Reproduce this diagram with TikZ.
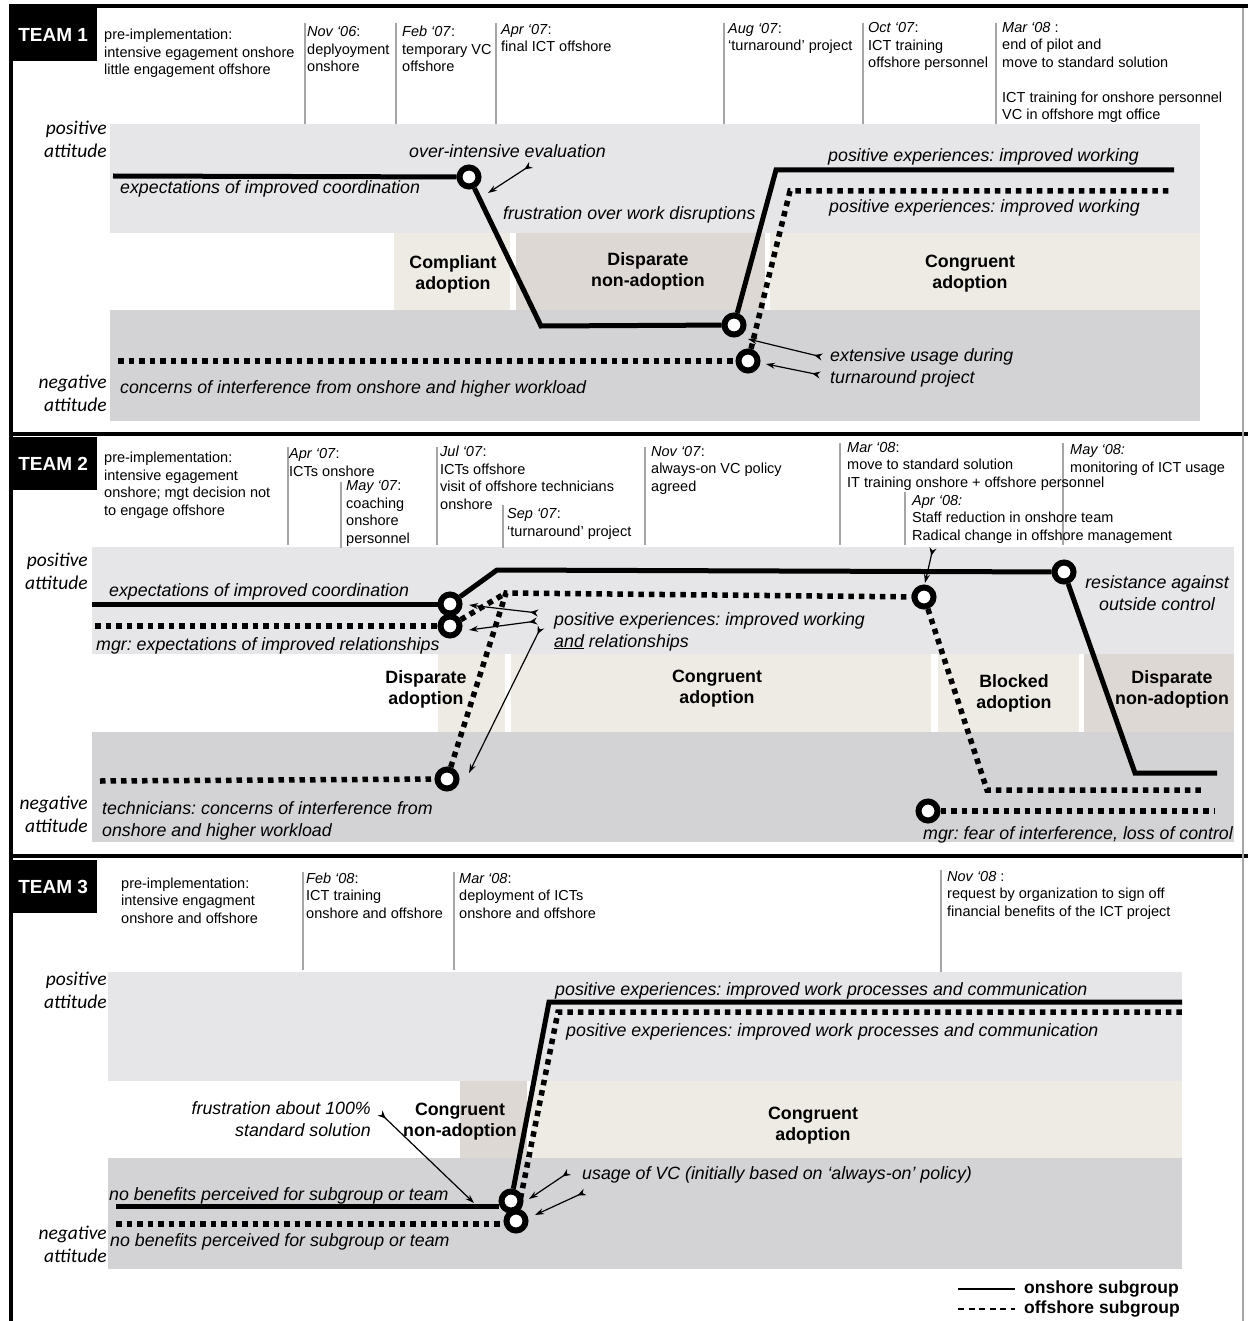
\documentclass[tikz,border=0pt]{standalone}
\usepackage{fontspec}
\setmainfont{Liberation Sans}
\newfontfamily\attfont{Carlito}
\usetikzlibrary{arrows.meta}
\frenchspacing

\definecolor{posband}{RGB}{230,230,232}
\definecolor{negband}{RGB}{211,211,213}
\definecolor{congbox}{RGB}{238,235,229}
\definecolor{disbox}{RGB}{222,216,212}
\definecolor{sepline}{RGB}{165,165,165}

\begin{document}
\begin{tikzpicture}[x = 1pt, y = -1pt,
    hdr/.style = {font = \fontsize{14.5}{17.5}\selectfont, align = left, anchor = base west, inner sep = 0},
    note/.style = {font = \fontsize{17.8}{22}\selectfont\itshape, align = left, anchor = base west, inner sep = 0},
    phase/.style = {font = \fontsize{17.8}{21}\selectfont\bfseries, align = center, inner sep = 0},
    att/.style = {font = \attfont\fontsize{19.5}{23}\selectfont\itshape, align = right, anchor = base east, inner sep = 0},
    team/.style = {fill = black, text = white, font = \fontsize{19}{19}\selectfont\bfseries, minimum width = 88, minimum height = 53, anchor = north west, inner sep = 0},
    onshore/.style = {line width = 5},
    offshore/.style = {line width = 5.5, dash pattern = on 5.5pt off 5pt},
    event/.style = {circle, draw, fill = white, line width = 6, minimum size = 19, inner sep = 0},
    sep/.style = {sepline, line width = 1.2},
    pointer/.style = {line width = 1.2, {Stealth[reversed, length = 8, width = 7]}-{Stealth[length = 9, width = 6]}}
]
    \useasboundingbox (0,0) rectangle (1248,1321);
    \fill [white] (0,0) rectangle (1248,1321);

    \fill [posband] (110,124) rectangle (1200,233);
    \fill [negband] (110,310) rectangle (1200,421);
    \fill [congbox] (394,233) rectangle (510,310);
    \fill [disbox]  (516,233) rectangle (765,310);
    \fill [congbox] (770,233) rectangle (1200,310);

    \fill [posband] (92,547) rectangle (1234,654);
    \fill [negband] (92,732) rectangle (1234,842);
    \fill [congbox] (438,654) rectangle (505,732);
    \fill [congbox] (511,654) rectangle (931,732);
    \fill [congbox] (938,654) rectangle (1079,732);
    \fill [disbox]  (1084,654) rectangle (1234,732);

    \fill [posband] (108,972) rectangle (1182,1081);
    \fill [negband] (108,1158) rectangle (1182,1269);
    \fill [disbox]  (460,1081) rectangle (527,1158);
    \fill [congbox] (531,1081) rectangle (1182,1158);

    \draw [black, line width = 4] (9,6.5) -- (1248,6.5);
    \draw [black, line width = 4] (9,434) -- (1248,434);
    \draw [black, line width = 4] (9,856) -- (1248,856);
    \draw [black, line width = 4] (11,6) -- (11,1321);
    \draw [sepline, line width = 1.5] (1243,8) -- (1243,1321);

    \draw [sep] (305,23) -- (305,124);
    \draw [sep] (396,23) -- (396,124);
    \draw [sep] (496,23) -- (496,124);
    \draw [sep] (724,23) -- (724,124);
    \draw [sep] (863,23) -- (863,124);
    \draw [sep] (996,23) -- (996,124);

    \draw [sep] (288,447) -- (288,545);
    \draw [sep] (341,482) -- (341,548);
    \draw [sep] (437,447) -- (437,545);
    \draw [sep] (503,505) -- (503,548);
    \draw [sep] (645,447) -- (645,545);
    \draw [sep] (840,443) -- (840,545);
    \draw [sep] (905,492) -- (905,545);
    \draw [sep] (1063,443) -- (1063,545);

    \draw [sep] (303,872) -- (303,970);
    \draw [sep] (454,872) -- (454,970);
    \draw [sep] (941,870) -- (941,972);

    \node [team] (team1) at (9,8) {TEAM 1};
    \node [team] (team2) at (9,437) {TEAM 2};
    \node [team] (team3) at (9,860) {TEAM 3};

    \node [hdr] (t1pre) at (104,75) {pre-implementation:\\intensive egagement onshore\\little engagement offshore};
    \node [hdr] (t1nov) at (307,72) {\textit{Nov ‘06}:\\deplyoyment\\onshore};
    \node [hdr] (t1feb) at (402,72) {\textit{Feb ‘07}:\\temporary VC\\offshore};
    \node [hdr] (t1apr) at (501,52) {\textit{Apr ‘07}:\\final ICT offshore};
    \node [hdr] (t1aug) at (728,51) {\textit{Aug ‘07}:\\‘turnaround’ project};
    \node [hdr] (t1oct) at (868,68) {\textit{Oct ‘07}:\\ICT training\\offshore personnel};
    \node [hdr] (t1mar) at (1002,120) {\textit{Mar ‘08} :\\end of pilot and\\move to standard solution\\[17.5pt]ICT training for onshore personnel\\VC in offshore mgt office};

    \node [hdr] (t2pre) at (104,515) {pre-implementation:\\intensive egagement\\onshore; mgt decision not\\to engage offshore};
    \node [hdr] (t2apr) at (289,476) {\textit{Apr ‘07}:\\ICTs onshore};
    \node [hdr] (t2may) at (346,543) {\textit{May ‘07}:\\coaching\\onshore\\personnel};
    \node [hdr] (t2jul) at (440,509) {\textit{Jul ‘07}:\\ICTs offshore\\visit of offshore technicians\\onshore};
    \node [hdr] (t2sep) at (507,536) {\textit{Sep ‘07}:\\‘turnaround’ project};
    \node [hdr] (t2nov) at (651,491) {\textit{Nov ‘07}:\\always-on VC policy\\agreed};
    \node [hdr] (t2mar) at (847,487) {\textit{Mar ‘08}:\\move to standard solution\\IT training onshore + offshore personnel};
    \node [hdr] (t2apr8) at (912,540) {\textit{Apr ‘08:}\\Staff reduction in onshore team\\Radical change in offshore management};
    \node [hdr] (t2may8) at (1070,472) {\textit{May ‘08:}\\monitoring of ICT usage};

    \node [hdr] (t3pre) at (121,923) {pre-implementation:\\intensive engagment\\onshore and offshore};
    \node [hdr] (t3feb) at (306,918) {\textit{Feb ‘08}:\\ICT training\\onshore and offshore};
    \node [hdr] (t3mar) at (459,918) {\textit{Mar ‘08}:\\deployment of ICTs\\onshore and offshore};
    \node [hdr] (t3nov) at (947,916) {\textit{Nov ‘08} :\\request by organization to sign off\\financial benefits of the ICT project};

    \node [att] (pos1) at (107,158) {positive\\attitude};
    \node [att] (neg1) at (107,411) {negative\\attitude};
    \node [att] (pos2) at (88,589) {positive\\attitude};
    \node [att] (neg2) at (88,832) {negative\\attitude};
    \node [att] (pos3) at (107,1008) {positive\\attitude};
    \node [att] (neg3) at (107,1262) {negative\\attitude};

    \node [phase] (ph1a) at (453,274) {Compliant\\adoption};
    \node [phase] (ph1b) at (648,271) {Disparate\\non-adoption};
    \node [phase] (ph1c) at (970,274) {Congruent\\adoption};
    \node [phase] (ph2a) at (426,689) {Disparate\\adoption};
    \node [phase] (ph2b) at (717,689) {Congruent\\adoption};
    \node [phase] (ph2c) at (1014,693) {Blocked\\adoption};
    \node [phase] (ph2d) at (1172,689) {Disparate\\non-adoption};
    \node [phase] (ph3a) at (460,1122) {Congruent\\non-adoption};
    \node [phase] (ph3b) at (813,1126) {Congruent\\adoption};

    \node [note] (n1eval) at (409,158) {over-intensive evaluation};
    \node [note] (n1exp) at (120,194) {expectations of improved coordination};
    \node [note] (n1frus) at (503,220) {frustration over work disruptions};
    \node [note] (n1posa) at (828,162) {positive experiences: improved working};
    \node [note] (n1posb) at (829,213) {positive experiences: improved working};
    \node [note] (n1use) at (830,383) {extensive usage during\\turnaround project};
    \node [note] (n1con) at (120,393) {concerns of interference from onshore and higher workload};

    \node [note] (n2exp) at (109,596) {expectations of improved coordination};
    \node [note] (n2mgr) at (96,650) {mgr: expectations of improved relationships};
    \node [note] (n2pos) at (554,647) {positive experiences: improved working\\\underline{and} relationships};
    \node [note, align = center, anchor = base] (n2res) at (1157,610) {resistance against\\outside control};
    \node [note] (n2tec) at (102,836) {technicians: concerns of interference from\\onshore and higher workload};
    \node [note] (n2fear) at (923,839) {mgr: fear of interference, loss of control};

    \node [note] (n3posa) at (555,995) {positive experiences: improved work processes and communication};
    \node [note] (n3posb) at (566,1036) {positive experiences: improved work processes and communication};
    \node [note, align = right, anchor = base east] (n3frus) at (371,1136) {frustration about 100\%\\standard solution};
    \node [note] (n3use) at (582,1179) {usage of VC (initially based on ‘always-on’ policy)};
    \node [note] (n3nba) at (109,1200) {no benefits perceived for subgroup or team};
    \node [note] (n3nbb) at (110,1246) {no benefits perceived for subgroup or team};

    \node [event] (e1a) at (469,177) {};
    \node [event] (e1b) at (734,325) {};
    \node [event] (e1c) at (748,361) {};
    \node [event] (e2a) at (450,604) {};
    \node [event] (e2b) at (450,626) {};
    \node [event] (e2c) at (447,779) {};
    \node [event] (e2d) at (1064,572) {};
    \node [event] (e2e) at (924,597) {};
    \node [event] (e2f) at (928,811) {};
    \node [event] (e3a) at (511,1201) {};
    \node [event] (e3b) at (516,1221) {};

    \coordinate (s1start) at (113,176);
    \coordinate (s1low) at (541,326);
    \coordinate (s1up) at (776,170);
    \coordinate (s1end) at (1174,170);
    \coordinate (o1start) at (118,361);
    \coordinate (o1up) at (790,191);
    \coordinate (o1end) at (1172,191);

    \draw [onshore] (s1start) -- (e1a);
    \draw [onshore] (e1a) -- (s1low) -- (e1b);
    \draw [onshore] (e1b) -- (s1up) -- (s1end);
    \draw [offshore] (o1start) -- (e1c);
    \draw [offshore] (e1c) -- (o1up) -- (o1end);

    \coordinate (s2start) at (92,604);
    \coordinate (s2up) at (497,570);
    \coordinate (s2low) at (1135,773);
    \coordinate (s2end) at (1217,773);
    \coordinate (o2start) at (95,626);
    \coordinate (o2tech) at (100,781);
    \coordinate (o2up) at (506,593);
    \coordinate (o2low) at (987,790);
    \coordinate (o2end) at (1204,790);
    \coordinate (o2fear) at (1215,811);

    \draw [onshore] (s2start) -- (e2a);
    \draw [onshore] (e2a) -- (s2up) -- (e2d);
    \draw [onshore] (e2d) -- (s2low) -- (s2end);
    \draw [offshore] (o2start) -- (e2b);
    \draw [offshore] (o2tech) -- (e2c);
    \draw [offshore] (e2b) -- (o2up);
    \draw [offshore] (e2c) -- (o2up) -- (e2e);
    \draw [offshore] (e2e) -- (o2low) -- (o2end);
    \draw [offshore] (e2f) -- (o2fear);

    \coordinate (s3start) at (116,1206);
    \coordinate (s3up) at (549,1002);
    \coordinate (s3end) at (1182,1002);
    \coordinate (o3start) at (116,1224);
    \coordinate (o3up) at (558,1012);
    \coordinate (o3end) at (1182,1012);

    \draw [onshore] (s3start) -- (e3a.west |- s3start);
    \draw [onshore] (e3a) -- (s3up) -- (s3end);
    \draw [offshore] (o3start) -- (e3b.west |- o3start);
    \draw [offshore] (e3b) -- (o3up) -- (o3end);

    \coordinate (p1a) at (531,165);
    \coordinate (q1a) at (488,193);
    \coordinate (p1b) at (822,357);
    \coordinate (q1b) at (748,339);
    \coordinate (p1c) at (820,375);
    \coordinate (q1c) at (766,364);
    \draw [pointer] (p1a) -- (q1a);
    \draw [pointer] (p1b) -- (q1b);
    \draw [pointer] (p1c) -- (q1c);

    \coordinate (p2a) at (538,613);
    \coordinate (q2a) at (469,605);
    \coordinate (p2b) at (537,621);
    \coordinate (q2b) at (469,630);
    \coordinate (p2c) at (541,627);
    \coordinate (q2c) at (469,773);
    \coordinate (p2d) at (933,548);
    \coordinate (q2d) at (925,583);
    \draw [pointer] (p2a) -- (q2a);
    \draw [pointer] (p2b) -- (q2b);
    \draw [pointer] (p2c) -- (q2c);
    \draw [pointer] (p2d) -- (q2d);

    \coordinate (p3a) at (380,1113);
    \coordinate (q3a) at (474,1203);
    \coordinate (p3b) at (569,1172);
    \coordinate (q3b) at (529,1199);
    \coordinate (p3c) at (585,1192);
    \coordinate (q3c) at (535,1215);
    \draw [pointer] (p3a) -- (q3a);
    \draw [pointer] (p3b) -- (q3b);
    \draw [pointer] (p3c) -- (q3c);

    \coordinate (lg1a) at (958,1289);
    \coordinate (lg1b) at (1015,1289);
    \coordinate (lg2a) at (958,1309);
    \coordinate (lg2b) at (1015,1309);
    \draw [line width = 2.5] (lg1a) -- (lg1b);
    \draw [line width = 2.5, dash pattern = on 6pt off 4.5pt] (lg2a) -- (lg2b);
    \node [font = \fontsize{17.5}{21}\selectfont\bfseries, anchor = west, inner sep = 0] (legon) at (1024,1289) {onshore subgroup};
    \node [font = \fontsize{17.5}{21}\selectfont\bfseries, anchor = west, inner sep = 0] (legoff) at (1024,1309) {offshore subgroup};
\end{tikzpicture}
\end{document}
